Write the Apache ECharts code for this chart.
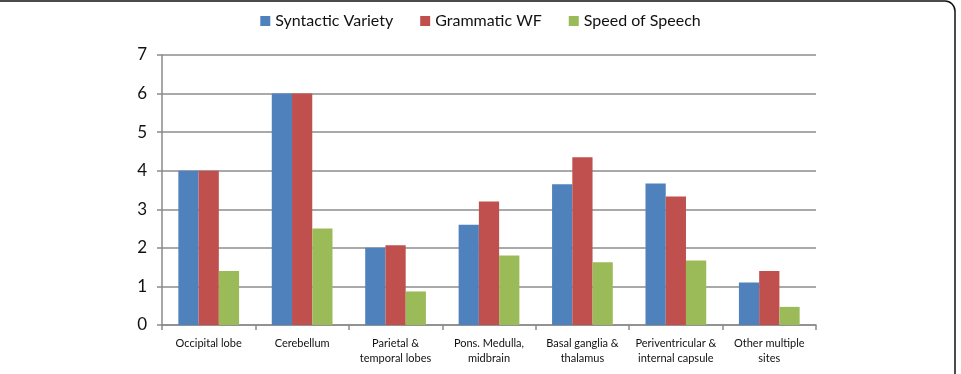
<!DOCTYPE html>
<html><head><meta charset="utf-8">
<script src="https://cdn.jsdelivr.net/npm/echarts@6/dist/echarts.min.js"></script>
<style>html,body{margin:0;padding:0;background:#fff}#c{width:961px;height:374px}</style>
</head><body><div id="c"></div>
<script>
const categories = ['Occipital lobe','Cerebellum','Parietal &\ntemporal lobes','Pons. Medulla,\nmidbrain','Basal ganglia &\nthalamus','Periventricular &\ninternal capsule','Other multiple\nsites'];
const seriesNames = ['Syntactic Variety','Grammatic WF','Speed of Speech'];
const syntacticVariety = [4, 6, 2.0, 2.6, 3.65, 3.67, 1.1];
const grammaticWF = [4, 6, 2.07, 3.2, 4.35, 3.33, 1.4];
const speedOfSpeech = [1.4, 2.5, 0.87, 1.8, 1.63, 1.67, 0.47];
const colors = ['#4F81BD','#C0504D','#9BBB59'];

const chart = echarts.init(document.getElementById('c'), null, {renderer:'canvas'});
const font = 'Lato, "Open Sans", sans-serif';
chart.setOption({
  animation: false,
  color: colors,
  textStyle: {fontFamily: font},
  graphic: [{type:'rect', shape:{x:-10, y:1, width:965, height:420, r:10}, style:{fill:null, stroke:'#111', lineWidth:1.5}, silent:true, z:-1}],
  legend: {
    top: 8, left: 'center', itemWidth: 10, itemHeight: 10, itemGap: 27,
    icon: 'rect',
    textStyle: {fontSize: 16, color: '#111', fontFamily: font},
    data: seriesNames
  },
  grid: {left: 162, right: 145, top: 55, bottom: 49, containLabel: false},
  xAxis: {
    type: 'category', data: categories,
    axisLine: {lineStyle: {color: '#8a8a8a', width: 1.5}},
    axisTick: {show: true, length: 5, lineStyle: {color: '#8a8a8a', width: 1.5}},
    axisLabel: {fontSize: 11, color: '#111', margin: 11, lineHeight: 15, interval: 0, fontFamily: font}
  },
  yAxis: {
    type: 'value', min: 0, max: 7, interval: 1,
    axisLine: {show: true, lineStyle: {color: '#8a8a8a', width: 1.5}},
    axisTick: {show: true, length: 5, lineStyle: {color: '#8a8a8a', width: 1.5}},
    axisLabel: {fontSize: 17, color: '#111', margin: 15, fontFamily: font},
    splitLine: {lineStyle: {color: '#8c8c8c', width: 1.5}}
  },
  series: [
    {name: seriesNames[0], type: 'bar', data: syntacticVariety, barGap: '0%', barCategoryGap: '35%'},
    {name: seriesNames[1], type: 'bar', data: grammaticWF, barGap: '0%', barCategoryGap: '35%'},
    {name: seriesNames[2], type: 'bar', data: speedOfSpeech, barGap: '0%', barCategoryGap: '35%'}
  ]
});
</script></body></html>
